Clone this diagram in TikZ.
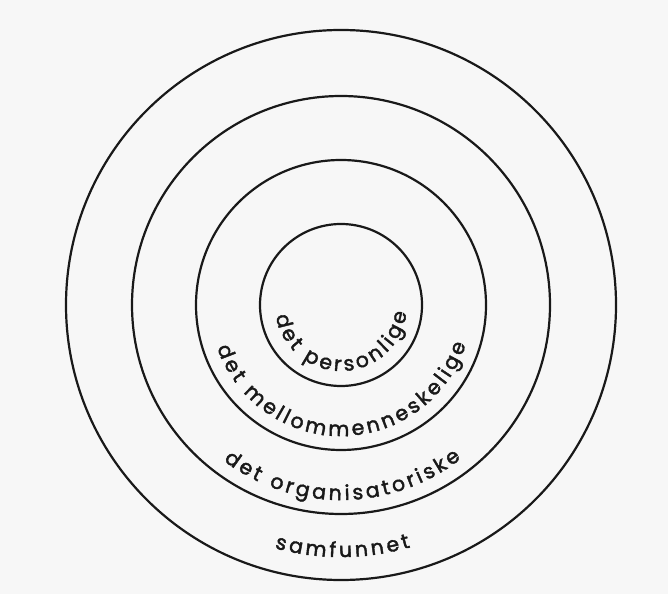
\documentclass[tikz,border=0pt]{standalone}
\usepackage{fontspec}
\newfontfamily\ringfont[FakeBold=2]{Poppins}
\usetikzlibrary{decorations.text,calc}
\definecolor{bg}{RGB}{247,247,247}
\definecolor{ink}{RGB}{25,25,25}
\begin{document}
\begin{tikzpicture}[x=1pt,y=1pt,
  ring/.style={draw=ink, line width=2.2pt, circle, inner sep=0pt},
  ringtext/.style={decorate, decoration={text along path, text align=center,
    text={|\ringfont\fontsize{20.5}{20.5}\selectfont\color{ink}\kern3.2pt|#1}}}]
  \fill[bg] (0,0) rectangle (668,594);
  \useasboundingbox (0,0) rectangle (668,594);
  \coordinate (c) at (341,289);
  \node[ring, minimum size=550pt] (samfunn) at (c) {};
  \node[ring, minimum size=418pt] (org) at (c) {};
  \node[ring, minimum size=290pt] (mellom) at (c) {};
  \node[ring, minimum size=162pt] (person) at (c) {};
  \path[ringtext={det personlige}] ($(c)+(150:66)$) arc[start angle=150, end angle=390, radius=66];
  \path[ringtext={det mellommenneskelige}] ($(c)+(150:131)$) arc[start angle=150, end angle=390, radius=131];
  \path[ringtext={det organisatoriske}] ($(c)+(150:195)$) arc[start angle=150, end angle=390, radius=195];
  \path[ringtext={samfunnet}] ($(c)+(150:252)$) arc[start angle=150, end angle=390, radius=252];
\end{tikzpicture}
\end{document}
